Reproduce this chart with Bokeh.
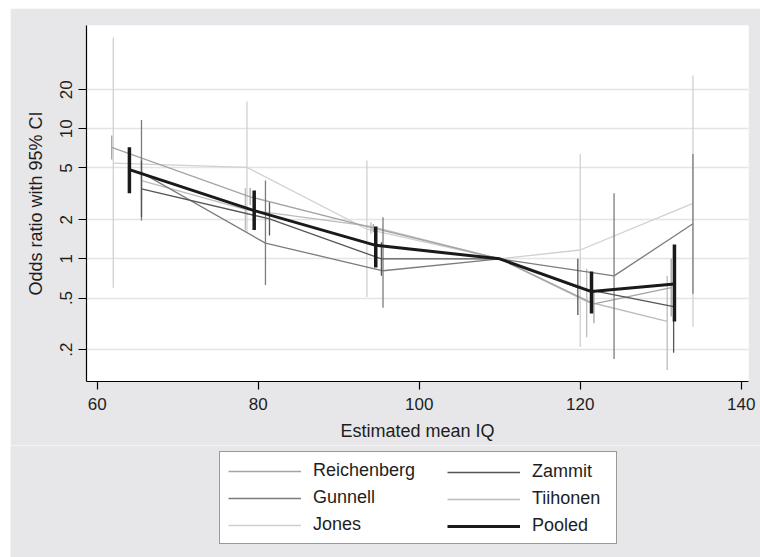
from bokeh.plotting import figure
from bokeh.models import Range1d, FixedTicker, Legend, LegendItem, ColumnDataSource, Spacer
from bokeh.layouts import column, row
from bokeh.embed import file_html
from bokeh.resources import INLINE

nan = float("nan")

# ---- data ----
series_names = ["Reichenberg", "Gunnell", "Jones", "Zammit", "Tiihonen", "Pooled"]

reichenberg_iq = [61.8, 79.0, 94.3, 110, 121.7, 131.3]
reichenberg_or = [7.2, 3.0, 1.72, 1.0, 0.45, 0.60]
reichenberg_lo = [5.8, 2.6, 1.60, nan, 0.32, 0.36]
reichenberg_hi = [8.9, 3.5, 1.85, nan, 0.57, 1.0]

gunnell_iq = [65.5, 80.9, 95.5, 110, 124.2, 134.0]
gunnell_or = [4.6, 1.32, 0.81, 1.0, 0.74, 1.86]
gunnell_lo = [1.97, 0.63, 0.42, nan, 0.17, 0.54]
gunnell_hi = [11.7, 4.0, 2.09, nan, 3.2, 6.4]

jones_iq = [62.0, 78.6, 93.5, 110, 120.0, 134.0]
jones_or = [5.44, 5.06, 1.69, 1.0, 1.17, 2.67]
jones_lo = [0.6, 1.6, 0.51, nan, 0.21, 0.30]
jones_hi = [50.4, 16.2, 5.7, nan, 6.4, 25.7]

zammit_iq = [65.5, 81.4, 95.3, 110, 119.7, 131.6]
zammit_or = [3.45, 2.03, 1.0, 1.0, 0.60, 0.43]
zammit_lo = [2.1, 1.51, 0.74, nan, 0.37, 0.19]
zammit_hi = [5.7, 2.73, 1.34, nan, 1.0, 1.0]

tiihonen_iq = [65.5, 78.4, 94.0, 110, 120.8, 130.8]
tiihonen_or = [4.0, 2.4, 1.78, 1.0, 0.47, 0.33]
tiihonen_lo = [2.84, 1.65, 1.56, nan, 0.25, 0.14]
tiihonen_hi = [6.0, 3.49, 1.91, nan, 0.84, 0.74]

pooled_iq = [64.0, 79.5, 94.6, 110, 121.4, 131.7]
pooled_or = [4.86, 2.35, 1.27, 1.0, 0.56, 0.64]
pooled_lo = [3.2, 1.67, 0.86, nan, 0.38, 0.33]
pooled_hi = [7.2, 3.35, 1.77, nan, 0.80, 1.29]

y_ticks = [0.2, 0.5, 1, 2, 5, 10, 20]
y_tick_labels = [".2", ".5", "1", "2", "5", "10", "20"]
x_ticks = [60, 80, 100, 120, 140]

FONT = "Liberation Sans"
TXT = "#1e1e1e"
BG = "#e7e7e9"

p = figure(width=750, height=437, output_backend="svg", toolbar_location=None,
           y_axis_type="log",
           x_range=Range1d(58.67, 140.9), y_range=Range1d(0.114, 62.3),
           min_border_left=76, min_border_right=12, min_border_top=17,
           min_border_bottom=64)
p.border_fill_color = BG
p.background_fill_color = "white"
p.outline_line_color = None

p.xgrid.visible = False
p.ygrid.ticker = FixedTicker(ticks=y_ticks)
p.ygrid.grid_line_color = "#e4e4e4"
p.ygrid.grid_line_width = 1.5

p.yaxis.ticker = FixedTicker(ticks=y_ticks)
p.yaxis.major_label_overrides = {t: l for t, l in zip(y_ticks, y_tick_labels)}
p.yaxis.major_label_orientation = "vertical"
p.xaxis.ticker = FixedTicker(ticks=x_ticks)
for ax in (p.xaxis, p.yaxis):
    ax.minor_tick_line_color = None
    ax.major_tick_in = 0
    ax.major_tick_out = 8
    ax.axis_line_color = "black"
    ax.axis_line_width = 1.2
    ax.major_tick_line_color = "black"
    ax.major_tick_line_width = 1.2
    ax.major_label_text_font = FONT
    ax.major_label_text_font_size = "17px"
    ax.major_label_text_color = TXT
    ax.axis_label_text_font = FONT
    ax.axis_label_text_font_size = "18px"
    ax.axis_label_text_font_style = "normal"
    ax.axis_label_text_color = TXT
p.yaxis.major_label_standoff = 6
p.yaxis.axis_label_standoff = 12
p.xaxis.major_label_standoff = 8
p.xaxis.axis_label_standoff = 8
p.yaxis.axis_label = "Odds ratio with 95% CI"
p.xaxis.axis_label = "Estimated mean IQ"

data = {
    "Reichenberg": (reichenberg_iq, reichenberg_or, reichenberg_lo, reichenberg_hi, "#a4a4a4", 1.3, 1.3),
    "Gunnell": (gunnell_iq, gunnell_or, gunnell_lo, gunnell_hi, "#7c7c7c", 1.3, 1.3),
    "Jones": (jones_iq, jones_or, jones_lo, jones_hi, "#d0d0d0", 1.3, 1.3),
    "Zammit": (zammit_iq, zammit_or, zammit_lo, zammit_hi, "#555555", 1.3, 1.3),
    "Tiihonen": (tiihonen_iq, tiihonen_or, tiihonen_lo, tiihonen_hi, "#bcbcbc", 1.3, 1.3),
    "Pooled": (pooled_iq, pooled_or, pooled_lo, pooled_hi, "#1a1a1a", 3.0, 3.5),
}

draw_order = ["Jones", "Tiihonen", "Reichenberg", "Gunnell", "Zammit", "Pooled"]
for name in draw_order:
    xs, ys, lo, hi, col, lw, cw = data[name]
    src = ColumnDataSource(dict(x=xs, y=ys, lo=lo, hi=hi))
    p.line("x", "y", source=src, line_color=col, line_width=lw)
    p.segment(x0="x", y0="lo", x1="x", y1="hi", source=src, line_color=col, line_width=cw)

# ---- legend panel (separate figure below the plot) ----
lf = figure(width=750, height=112, output_backend="svg", toolbar_location=None,
            x_range=Range1d(0, 1), y_range=Range1d(0, 1),
            x_axis_location=None, y_axis_location=None,
            min_border_left=0, min_border_right=0, min_border_top=0, min_border_bottom=0)
lf.border_fill_color = BG
lf.background_fill_color = BG
lf.background_fill_alpha = 1.0
lf.outline_line_color = None
lf.grid.visible = False

legend_renderers = {}
for name in series_names:
    col, lw = data[name][4], data[name][5]
    # key-only renderers placed outside the visible range of the legend panel
    legend_renderers[name] = lf.line(x=[-5, -4], y=[-5, -4], line_color=col, line_width=lw)

common = dict(glyph_width=73, glyph_height=20, label_height=20, label_standoff=12,
              spacing=6, padding=8, margin=0,
              label_text_font=FONT, label_text_font_size="18px", label_text_color=TXT,
              orientation="vertical", border_line_color="#333333", border_line_width=1.2)

leg_a = Legend(items=[LegendItem(label=n, renderers=[legend_renderers[n]]) for n in series_names[:3]],
               location=(209, 13), label_width=295,
               background_fill_color="white", background_fill_alpha=1.0, **common)
leg_b = Legend(items=[LegendItem(label=n, renderers=[legend_renderers[n]]) for n in series_names[3:]],
               location=(429, 13), label_width=20,
               border_line_alpha=0.0, background_fill_alpha=0.0, **common)
lf.add_layout(leg_a, "center")
lf.add_layout(leg_b, "center")

layout = column(Spacer(width=760, height=8),
                row(Spacer(width=10, height=549),
                    column(p, row(lf, spacing=0), spacing=0), spacing=0),
                spacing=0)

open("out.html", "w").write(file_html(layout, INLINE))
